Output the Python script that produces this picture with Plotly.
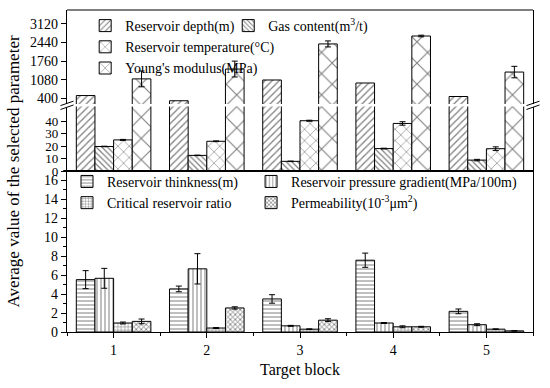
import plotly.graph_objects as go

blocks = [1, 2, 3, 4, 5]

depth = [500, 310, 1070, 960, 465]
young = [1110, 1470, 2390, 2680, 1360]
young_err = [290, 290, 110, 30, 210]
gas = [19.8, 12.6, 7.8, 18.1, 8.8]
gas_err = [0.2, 0.2, 0.2, 0.3, 0.6]
temp = [25.1, 24.0, 40.6, 38.4, 18.0]
temp_err = [0.4, 0.3, 0.4, 1.4, 1.5]

thickness = [5.53, 4.55, 3.49, 7.58, 2.18]
thickness_err = [0.95, 0.3, 0.45, 0.75, 0.25]
pressure = [5.67, 6.67, 0.65, 0.95, 0.77]
pressure_err = [1.05, 1.6, 0.05, 0.05, 0.1]
critical = [0.95, 0.42, 0.3, 0.55, 0.3]
critical_err = [0.1, 0.05, 0.03, 0.1, 0.03]
perm = [1.12, 2.54, 1.25, 0.55, 0.12]
perm_err = [0.25, 0.12, 0.15, 0.05, 0.02]

top_ticks = [400, 1080, 1760, 2440, 3120]
mid_ticks = [0, 10, 20, 30, 40]
bot_ticks = [0, 2, 4, 6, 8, 10, 12, 14, 16]

FONT = "Liberation Serif, Times New Roman, serif"
W = 0.2


def bar(name, y, off, shape, size, sol, yaxis, err=None, legend=None, show=True):
    kw = {}
    if err is not None:
        kw["error_y"] = dict(type="data", array=err, visible=True, color="black",
                             thickness=1, width=3)
    return go.Bar(
        x=blocks, y=y, name=name, width=W, offset=off, yaxis=yaxis,
        marker=dict(color="white", line=dict(color="black", width=1),
                    pattern=dict(shape=shape, size=size, solidity=sol,
                                 fgcolor="black", bgcolor="white")),
        showlegend=show, legend=legend, **kw)


fig = go.Figure()
# top panel
fig.add_trace(bar("Reservoir depth(m)", depth, -0.4, "/", 5, 0.25, "y3", legend="legend"))
fig.add_trace(bar("Gas content(m<sup>3</sup>/t)", gas, -0.2, "\\", 4, 0.3, "y3", legend="legend2"))
fig.add_trace(bar("Reservoir temperature(°C)", temp, 0.0, "x", 8, 0.15, "y3", legend="legend"))
fig.add_trace(bar("Young's modulus(MPa)", young, 0.2, "x", 15, 0.14, "y3", err=young_err, legend="legend"))
# middle panel
fig.add_trace(bar("Reservoir depth(m)", depth, -0.4, "/", 5, 0.25, "y2", show=False))
fig.add_trace(bar("Gas content", gas, -0.2, "\\", 4, 0.3, "y2", err=gas_err, show=False))
fig.add_trace(bar("Reservoir temperature", temp, 0.0, "x", 8, 0.15, "y2", err=temp_err, show=False))
fig.add_trace(bar("Young's modulus", young, 0.2, "x", 15, 0.14, "y2", show=False))
# bottom panel
fig.add_trace(bar("Reservoir thinkness(m)", thickness, -0.4, "-", 4, 0.25, "y", err=thickness_err, legend="legend3"))
fig.add_trace(bar("Reservoir pressure gradient(MPa/100m)", pressure, -0.2, "|", 4, 0.25, "y", err=pressure_err, legend="legend4"))
fig.add_trace(bar("Critical reservoir ratio", critical, 0.0, "+", 3.5, 0.3, "y", err=critical_err, legend="legend3"))
fig.add_trace(bar("Permeability(10<sup>-3</sup>μm<sup>2</sup>)", perm, 0.2, "x", 3.5, 0.45, "y", err=perm_err, legend="legend4"))

axis_common = dict(showline=True, linecolor="black", linewidth=1.2, mirror=True,
                   ticks="outside", ticklen=5, tickcolor="black", tickwidth=1,
                   showgrid=False, zeroline=False, anchor="x")

leg_common = dict(font=dict(family=FONT, size=14, color="black"),
                  bgcolor="rgba(0,0,0,0)", xanchor="left", yanchor="top",
                  orientation="v", itemclick=False, tracegroupgap=0)

fig.update_layout(
    width=550, height=388,
    margin=dict(l=67, r=17, t=10, b=56),
    paper_bgcolor="white", plot_bgcolor="white",
    barmode="overlay",
    font=dict(family=FONT, size=14, color="black"),
    xaxis=dict(range=[0.5, 5.5], tickvals=blocks, showline=True, linecolor="black",
               linewidth=1.2, ticks="outside", ticklen=5, tickcolor="black",
               minor=dict(dtick=0.5, tick0=0.5, ticks="outside", ticklen=3, tickcolor="black"),
               showgrid=False, zeroline=False, anchor="y",
               tickfont=dict(family=FONT, size=14, color="black"),
               title=dict(text="Target block", font=dict(family=FONT, size=16, color="black"),
                          standoff=6)),
    yaxis=dict(domain=[0, 0.5], range=[0, 17], tickvals=bot_ticks,
               minor=dict(tickvals=[1, 3, 5, 7, 9, 11, 13, 15], ticks="outside", ticklen=3,
                          tickcolor="black"),
               tickfont=dict(family=FONT, size=14, color="black"),
               **axis_common),
    yaxis2=dict(domain=[0.5, 0.70], range=[0, 52], tickvals=mid_ticks,
                tickfont=dict(family=FONT, size=13, color="black"), **axis_common),
    yaxis3=dict(domain=[0.708, 1.0], range=[190, 3632], tickvals=top_ticks,
                tickfont=dict(family=FONT, size=14, color="black"), **axis_common),
    legend=dict(x=0.039, y=1.0, **leg_common),
    legend2=dict(x=0.346, y=1.0, **leg_common),
    legend3=dict(x=0.0, y=0.516, **leg_common),
    legend4=dict(x=0.395, y=0.516, **leg_common),
)

# full-height y-axis title
fig.add_annotation(text="Average value of the selected parameter", xref="paper", yref="paper",
                   x=-0.115, y=0.5, xanchor="center", yanchor="middle", textangle=-90,
                   showarrow=False, font=dict(family=FONT, size=17, color="black"))

# frame lines
fig.add_shape(type="line", xref="paper", yref="paper", x0=-0.008, x1=1, y0=0.5, y1=0.5,
              line=dict(color="black", width=2))
fig.add_shape(type="line", xref="paper", yref="paper", x0=0, x1=1, y0=1, y1=1,
              line=dict(color="black", width=1.2))

# axis break marks
for xb in (0.0, 1.0):
    for dy in (-0.006, 0.006):
        fig.add_shape(type="line", xref="paper", yref="paper",
                      x0=xb - 0.014, x1=xb + 0.014, y0=0.697 + dy, y1=0.711 + dy,
                      line=dict(color="black", width=1))

fig.write_html("out.html", config={"displayModeBar": False},
               post_script="document.body.style.margin='0px';")
